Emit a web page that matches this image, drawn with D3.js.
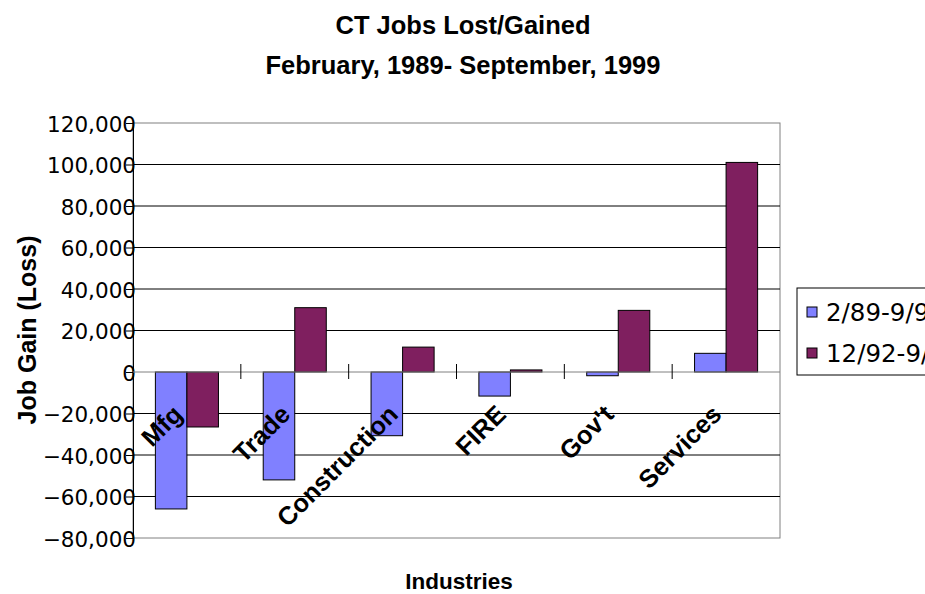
<!DOCTYPE html>
<html>
<head>
<meta charset="utf-8">
<script src="https://cdn.jsdelivr.net/npm/d3@7"></script>
<style>
  html, body { margin: 0; padding: 0; background: #fff; }
  svg { display: block; }
</style>
</head>
<body>
<svg id="chart" width="925" height="594"></svg>
<script>
const categories = ["Mfg", "Trade", "Construction", "FIRE", "Gov't", "Services"];
const seriesNames = ["2/89-9/99", "12/92-9/99"];
const series1 = [-66000, -52000, -30700, -11600, -1800, 9000];
const series2 = [-26500, 31000, 12000, 1000, 29700, 101000];
const yTicks = [-80000, -60000, -40000, -20000, 0, 20000, 40000, 60000, 80000, 100000, 120000];
const colors = ["#8080FF", "#7F1F5F"];

const svg = d3.select("#chart");
const pLeft = 133, pRight = 780, pTop = 123, pBottom = 538;

const x = d3.scaleBand().domain(categories).range([pLeft, pRight]).padding(0);
const xs = d3.scaleBand().domain(seriesNames).range([0, x.bandwidth()]).paddingInner(0).paddingOuter(0.71);
const y = d3.scaleLinear().domain([-80000, 120000]).range([pBottom, pTop]);

// plot area border
svg.append("rect")
  .attr("x", pLeft).attr("y", pTop)
  .attr("width", pRight - pLeft).attr("height", pBottom - pTop)
  .attr("fill", "none").attr("stroke", "#808080").attr("stroke-width", 1);

// gridlines
svg.append("g").selectAll("line").data(yTicks.filter(d => d !== 0 && d !== 120000 && d !== -80000)).join("line")
  .attr("x1", pLeft).attr("x2", pRight)
  .attr("y1", d => y(d)).attr("y2", d => y(d))
  .attr("stroke", "#000").attr("stroke-width", 1);

// y axis
const yAxis = d3.axisLeft(y).tickValues(yTicks).tickSize(7).tickPadding(-10)
  .tickFormat(d3.format(","));
const gy = svg.append("g").attr("transform", `translate(${pLeft},0)`).call(yAxis);
gy.select(".domain").attr("stroke", "#000");
gy.selectAll(".tick line").attr("stroke", "#000");
gy.selectAll(".tick text")
  .attr("font-family", "DejaVu Sans, Verdana, sans-serif")
  .attr("font-size", 21.5).attr("fill", "#000").attr("dy", "0.38em");

// bars
const data = categories.map((c, i) => ({ c, vals: [series1[i], series2[i]] }));
const groups = svg.append("g").selectAll("g").data(data).join("g")
  .attr("transform", d => `translate(${x(d.c)},0)`);
groups.selectAll("rect").data(d => d.vals.map((v, j) => ({ v, s: seriesNames[j], j }))).join("rect")
  .attr("x", d => xs(d.s))
  .attr("width", xs.bandwidth())
  .attr("y", d => Math.min(y(d.v), y(0)))
  .attr("height", d => Math.abs(y(d.v) - y(0)))
  .attr("fill", d => colors[d.j])
  .attr("stroke", "#000").attr("stroke-width", 1);

// zero axis line with crossing category ticks
svg.append("line")
  .attr("x1", pLeft).attr("x2", pRight).attr("y1", y(0)).attr("y2", y(0))
  .attr("stroke", "#808080").attr("stroke-width", 1);
svg.append("g").selectAll("line").data(categories.slice(1)).join("line")
  .attr("x1", d => x(d)).attr("x2", d => x(d))
  .attr("y1", y(0) - 8).attr("y2", y(0) + 7)
  .attr("stroke", "#000").attr("stroke-width", 1);

// category labels
svg.append("g").selectAll("text").data(categories).join("text")
  .attr("transform", d => `translate(${x(d) + x.bandwidth() / 2 - 3},${y(0) + 44}) rotate(-45)`)
  .attr("text-anchor", "end")
  .attr("font-family", "Liberation Sans, Arial, sans-serif")
  .attr("font-weight", "bold").attr("font-size", 25.5).attr("fill", "#000")
  .text(d => d);

// titles
svg.append("text").attr("x", 463).attr("y", 34).attr("text-anchor", "middle")
  .attr("font-family", "Liberation Sans, Arial, sans-serif").attr("font-weight", "bold").attr("font-size", 25.5)
  .text("CT Jobs Lost/Gained");
svg.append("text").attr("x", 463).attr("y", 74).attr("text-anchor", "middle")
  .attr("font-family", "Liberation Sans, Arial, sans-serif").attr("font-weight", "bold").attr("font-size", 25.5)
  .text("February, 1989- September, 1999");
svg.append("text").attr("x", 459).attr("y", 589).attr("text-anchor", "middle")
  .attr("font-family", "Liberation Sans, Arial, sans-serif").attr("font-weight", "bold").attr("font-size", 22.5)
  .text("Industries");
svg.append("text").attr("transform", "translate(36,330) rotate(-90)").attr("text-anchor", "middle")
  .attr("font-family", "Liberation Sans, Arial, sans-serif").attr("font-weight", "bold").attr("font-size", 25)
  .text("Job Gain (Loss)");

// legend
const lg = svg.append("g");
lg.append("rect").attr("x", 797).attr("y", 288).attr("width", 160).attr("height", 87)
  .attr("fill", "#fff").attr("stroke", "#000").attr("stroke-width", 1);
seriesNames.forEach((s, i) => {
  const yy = 307 + i * 41;
  lg.append("rect").attr("x", 807).attr("y", yy).attr("width", 10).attr("height", 10)
    .attr("fill", colors[i]).attr("stroke", "#000").attr("stroke-width", 1);
  lg.append("text").attr("x", 826).attr("y", yy + 14)
    .attr("font-family", "DejaVu Sans, Verdana, sans-serif").attr("font-size", 24.5)
    .text(s);
});
</script>
</body>
</html>
